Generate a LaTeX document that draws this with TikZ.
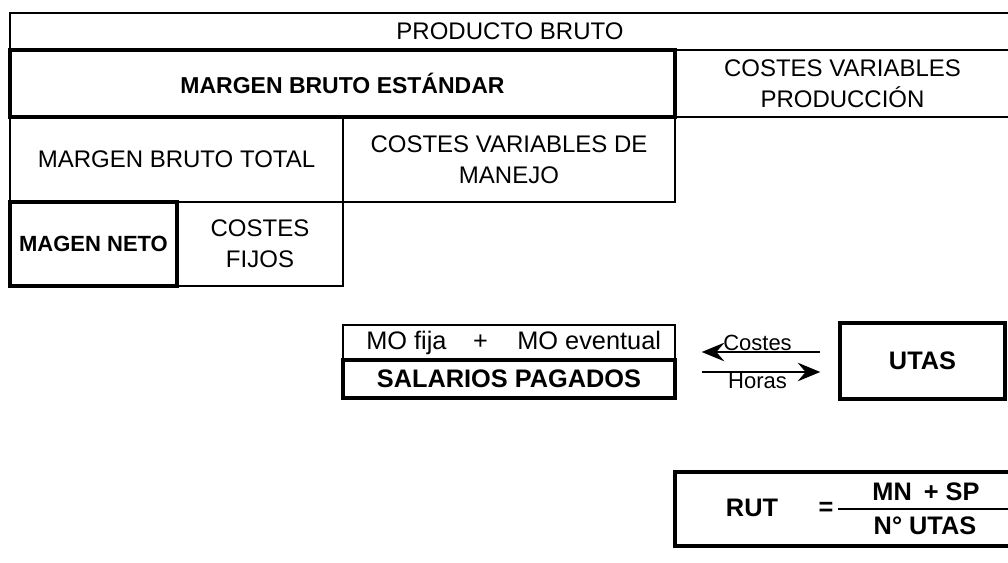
\documentclass[tikz,border=0pt]{standalone}
\usepackage{fontspec}
\setmainfont{Liberation Sans}
\usetikzlibrary{arrows.meta}

\tikzset{
  cell/.style={draw, line width=1.1pt, inner sep=0pt, align=center,
    font=\fontsize{18}{23.25}\selectfont},
  heavycell/.style={cell, line width=2.6pt},
  toplabel/.style={font=\fontsize{17.25}{21}\selectfont\bfseries},
  lowlabel/.style={font=\fontsize{19}{23}\selectfont\bfseries},
  flow/.style={line width=1.1pt, -{Stealth[length=17pt,width=14pt,inset=6pt]}},
  flowlabel/.style={font=\fontsize{16.5}{20}\selectfont, inner sep=0.6pt},
}

\begin{document}
\begin{tikzpicture}[x=0.75pt, y=-0.75pt]
    \useasboundingbox (0,0) rectangle (1008,563);

    % upper block, thin cells
    \node[cell, minimum width=750pt, minimum height=27.75pt] (pb) at (510,31.5) {PRODUCTO BRUTO};
    \node[cell, minimum width=251.25pt, minimum height=50.25pt] (cvp) at (842.5,83.5) {COSTES VARIABLES\\PRODUCCI\'ON};
    \node[cell, minimum width=249.75pt, minimum height=63.75pt] (mbt) at (176.5,159.5) {MARGEN BRUTO TOTAL};
    \node[cell, minimum width=249pt, minimum height=63.75pt] (cvm) at (509,159.5) {COSTES VARIABLES DE\\MANEJO};
    \node[cell, minimum width=124.5pt, minimum height=63pt] (cf) at (260,244) {COSTES\\FIJOS};

    % upper block, heavy cells
    \node[heavycell, toplabel, minimum width=498.75pt, minimum height=50.25pt] (mbe) at (342.5,83.5) {MARGEN BRUTO EST\'ANDAR};
    \node[heavycell, toplabel, font=\fontsize{16.5}{20}\selectfont\bfseries, minimum width=125.25pt, minimum height=63pt] (mn) at (93.5,244) {MAGEN NETO};

    % salarios and utas
    \node[cell, font=\fontsize{19}{23}\selectfont, minimum width=249pt, minimum height=26.25pt] (mo) at (509,342.5)
        {\hspace{7pt}MO fija\hspace{20pt}+\hspace{22pt}MO eventual};
    \node[heavycell, lowlabel, minimum width=249pt, minimum height=28.5pt] (sp) at (509,379) {SALARIOS PAGADOS};
    \node[heavycell, lowlabel, minimum width=123.75pt, minimum height=57pt] (utas) at (922.5,361) {UTAS};

    % arrows between them
    \draw[flow, shorten <=13.5pt, shorten >=18.75pt] ([yshift=6.75pt]utas.west) -- ([yshift=6.75pt]utas.west -| sp.east)
        node[flowlabel, midway, above] {Costes};
    \draw[flow, shorten <=18.75pt, shorten >=13.5pt] ([yshift=-8.25pt]utas.west -| sp.east) -- ([yshift=-8.25pt]utas.west)
        node[flowlabel, midway, below] {Horas};

    % rut formula
    \node[heavycell, minimum width=252.75pt, minimum height=55.5pt] (rut) at (843.5,509) {};
    \node[lowlabel] (lhs) at (752,508) {RUT};
    \node[lowlabel] (eq) at (826,509) {=};
    \node[lowlabel] (num) at (926,492) {MN\hspace{9pt}+ SP};
    \node[lowlabel] (den) at (925,526) {N\textdegree{} UTAS};
    \draw[line width=1.1pt] (eq.east) -- (eq.east -| rut.east);
\end{tikzpicture}
\end{document}
